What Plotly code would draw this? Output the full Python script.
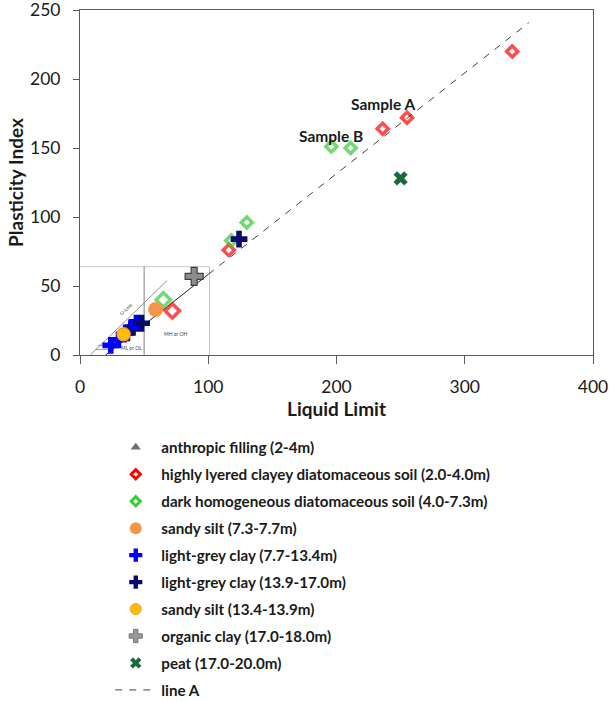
import plotly.graph_objects as go

# ---------------- data ----------------
red_ll = [337, 255, 236, 116, 72]
red_pi = [220, 172, 164, 76, 32]
green_ll = [196, 211, 130, 118, 65]
green_pi = [151, 150, 96, 83, 40]
orange_ll = [59]
orange_pi = [33]
blue_ll = [24, 30, 40, 44]
blue_pi = [7, 11, 20, 23]
navy_ll = [124, 37, 48]
navy_pi = [84, 16, 23]
yellow_ll = [34]
yellow_pi = [15]
grey_ll = [89]
grey_pi = [57]
peat_ll = [250]
peat_pi = [128]
lineA_ll = [100, 350]

x_ticks = [0, 100, 200, 300, 400]
y_ticks = [0, 50, 100, 150, 200, 250]
inset_x_ticks = [0, 20, 40, 60, 80, 100]
inset_y_ticks = [0, 10, 20, 30, 40, 50, 60]

FONT = "Lato"
INSET_LL = 100


def sizes(xs, small, big):
    return [big if x <= INSET_LL else small for x in xs]


fig = go.Figure()

# (name, x, y, plot marker, legend marker)
series = [
    ("anthropic filling (2-4m)", [None], [None],
     dict(symbol="triangle-up", color="#6e6e6e", size=11),
     dict(symbol="triangle-up", color="#6e6e6e", size=9)),
    ("highly lyered clayey diatomaceous soil (2.0-4.0m)", red_ll, red_pi,
     dict(symbol="diamond-open", color="#ff0000", size=sizes(red_ll, 8.5, 11),
          line=dict(width=3.5, color="#ff0000")),
     dict(symbol="diamond-open", color="#ff0000", size=7, line=dict(width=3, color="#ff0000"))),
    ("dark homogeneous diatomaceous soil (4.0-7.3m)", green_ll, green_pi,
     dict(symbol="diamond-open", color="#33cc33", size=sizes(green_ll, 8.5, 11),
          line=dict(width=3.5, color="#33cc33")),
     dict(symbol="diamond-open", color="#33cc33", size=7, line=dict(width=3, color="#33cc33"))),
    ("sandy silt (7.3-7.7m)", orange_ll, orange_pi,
     dict(symbol="circle", color="#f79646", size=15),
     dict(symbol="circle", color="#f79646", size=12)),
    ("light-grey clay (7.7-13.4m)", blue_ll, blue_pi,
     dict(symbol="cross", color="#0000ff", size=14),
     dict(symbol="cross", color="#0000ff", size=11)),
    ("light-grey clay (13.9-17.0m)", navy_ll, navy_pi,
     dict(symbol="cross", color="#0a0a6e", size=14),
     dict(symbol="cross", color="#0a0a6e", size=11)),
    ("sandy silt (13.4-13.9m)", yellow_ll, yellow_pi,
     dict(symbol="circle", color="#ffc000", size=13, line=dict(width=1.5, color="#f79646")),
     dict(symbol="circle", color="#ffc000", size=11, line=dict(width=1, color="#f79646"))),
    ("organic clay (17.0-18.0m)", grey_ll, grey_pi,
     dict(symbol="cross", color="#8c8c8c", size=15, line=dict(width=1.2, color="#404040")),
     dict(symbol="cross", color="#9a9a9a", size=11, line=dict(width=0.8, color="#606060"))),
    ("peat (17.0-20.0m)", peat_ll, peat_pi,
     dict(symbol="x", color="#1a6b3a", size=12.5),
     dict(symbol="x", color="#1a6b3a", size=10)),
]

for i, (name, xs, ys, mk, lmk) in enumerate(series):
    fig.add_trace(go.Scatter(
        x=xs, y=ys, mode="markers", name=name, marker=mk,
        showlegend=False, cliponaxis=False,
    ))
    fig.add_trace(go.Scatter(
        x=[None], y=[None], mode="markers", name=name, marker=lmk,
        legendgroup=f"g{i}", showlegend=True,
    ))

fig.add_trace(go.Scatter(
    x=lineA_ll, y=[0.73 * (v - 20) for v in lineA_ll], mode="lines",
    name="line A", line=dict(color="#404040", width=1, dash="7px,7px"),
    legendgroup="gA",
))

# ---------------- inset (small Casagrande chart) ----------------
shapes = [
    dict(type="rect", xref="x", yref="y", x0=-6, x1=INSET_LL + 1, y0=-3, y1=64,
         fillcolor="white", line=dict(color="#c8c8c8", width=1), layer="below"),
    dict(type="line", xref="x", yref="y", x0=50, x1=50, y0=0, y1=64,
         line=dict(color="#808080", width=1), layer="below"),
    dict(type="line", xref="x", yref="y", x0=20, x1=INSET_LL, y0=0,
         y1=0.73 * (INSET_LL - 20), line=dict(color="#202020", width=1), layer="below"),
    dict(type="line", xref="x", yref="y", x0=8, x1=68, y0=0, y1=0.9 * (68 - 8),
         line=dict(color="#909090", width=1), layer="below"),
    dict(type="line", xref="x", yref="y", x0=14, x1=29, y0=7, y1=7,
         line=dict(color="#606060", width=0.6), layer="below"),
    dict(type="line", xref="x", yref="y", x0=12, x1=25, y0=4, y1=4,
         line=dict(color="#606060", width=0.6), layer="below"),
]

annotations = [
    dict(x=236, y=182, xref="x", yref="y", text="<b>Sample A</b>", showarrow=False,
         font=dict(family=FONT, size=15.5, color="#1a1a1a")),
    dict(x=196, y=159, xref="x", yref="y", text="<b>Sample B</b>", showarrow=False,
         font=dict(family=FONT, size=15.5, color="#1a1a1a")),
    dict(x=36, y=33, xref="x", yref="y", text="U-Line", showarrow=False, textangle=-44,
         font=dict(family=FONT, size=5, color="#404040")),
    dict(x=40, y=5, xref="x", yref="y", text="ML or OL", showarrow=False,
         font=dict(family=FONT, size=5, color="#404040")),
    dict(x=75, y=15, xref="x", yref="y", text="MH or OH", showarrow=False,
         font=dict(family=FONT, size=5, color="#404040")),
    dict(x=50, y=-9, xref="x", yref="y", text="W<sub>L</sub> (%)", showarrow=False,
         font=dict(family=FONT, size=4, color="#404040")),
    dict(x=-10, y=30, xref="x", yref="y", text="I<sub>P</sub>(%)", showarrow=False,
         textangle=-90, font=dict(family=FONT, size=4, color="#404040")),
]
for t in inset_x_ticks:
    annotations.append(dict(x=t, y=-3, xref="x", yref="y", text=str(t), showarrow=False,
                            font=dict(family=FONT, size=4, color="#404040")))
for t in inset_y_ticks:
    annotations.append(dict(x=-3, y=t, xref="x", yref="y", text=str(t), showarrow=False,
                            xanchor="right", font=dict(family=FONT, size=4, color="#404040")))

fig.update_layout(
    width=609, height=701,
    margin=dict(l=80, r=16, t=10, b=346, autoexpand=False),
    plot_bgcolor="white", paper_bgcolor="white",
    font=dict(family=FONT, color="#1a1a1a"),
    shapes=shapes, annotations=annotations,
    showlegend=True,
    legend=dict(
        x=0.059, y=-0.22, xanchor="left", yanchor="top",
        traceorder="grouped", tracegroupgap=4.2, itemwidth=41,
        font=dict(family=FONT, size=15.2, color="#1a1a1a", weight="bold"),
        bgcolor="rgba(0,0,0,0)",
    ),
    xaxis=dict(
        range=[0, 400], tickvals=x_ticks, showgrid=False, zeroline=False,
        showline=True, linecolor="#595959", linewidth=1, mirror=True,
        ticks="outside", ticklen=8, tickcolor="#595959", ticklabelstandoff=8,
        ticklabeloverflow="allow",
        tickfont=dict(family=FONT, size=17.5, color="#1a1a1a"), automargin=False,
        title=dict(text="<b>Liquid Limit</b>", font=dict(family=FONT, size=19, color="#1a1a1a"),
                   standoff=6),
    ),
    yaxis=dict(
        range=[0, 250], tickvals=y_ticks, showgrid=False, zeroline=False,
        showline=True, linecolor="#595959", linewidth=1, mirror=True,
        ticks="outside", ticklen=6, tickcolor="#595959", ticklabelstandoff=9,
        ticklabeloverflow="allow",
        tickfont=dict(family=FONT, size=17.5, color="#1a1a1a"), automargin=False,
        title=dict(text="<b>Plasticity Index</b>", font=dict(family=FONT, size=19, color="#1a1a1a"),
                   standoff=1),
    ),
)

fig.write_html("out.html")
